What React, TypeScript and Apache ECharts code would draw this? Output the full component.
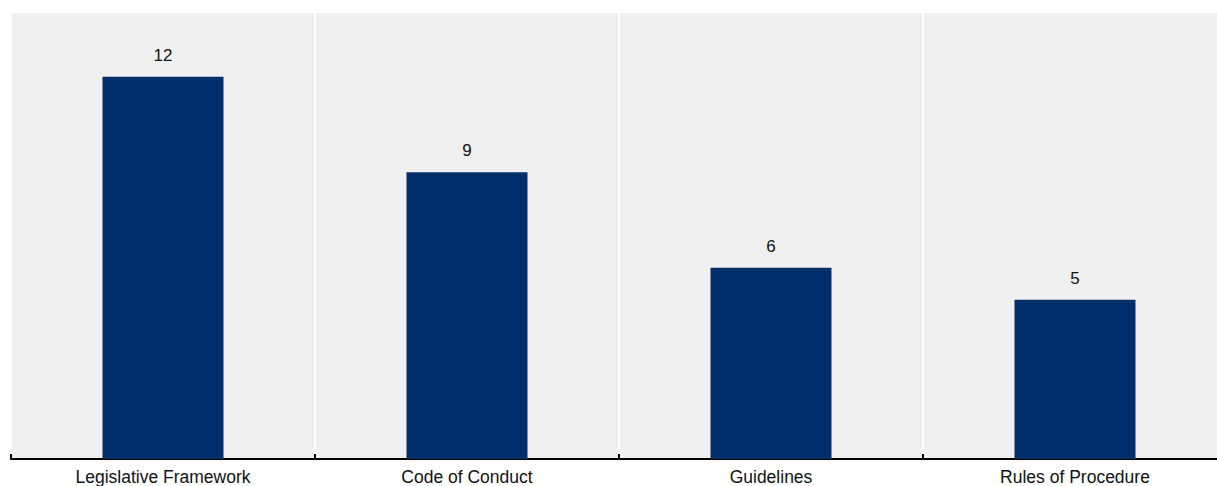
import React, { useEffect, useRef } from "react";
import * as echarts from "echarts";

const categories = ["Legislative Framework", "Code of Conduct", "Guidelines", "Rules of Procedure"];
const values = [12, 9, 6, 5];

const FONT = '"Liberation Sans Narrow", "Arial Narrow", "Liberation Sans", Arial, sans-serif';

export default function App() {
  const ref = useRef<HTMLDivElement>(null);
  useEffect(() => {
    if (!ref.current) return;
    const chart = echarts.init(ref.current, undefined, { renderer: "svg" });
    chart.setOption({
      animation: false,
      grid: {
        left: 11,
        top: 13,
        width: 1216,
        bottom: 26,
        show: true,
        backgroundColor: "#f0f0f0",
        borderWidth: 0,
      },
      xAxis: {
        type: "category",
        data: categories,
        axisLine: { show: true, lineStyle: { color: "#000", width: 2 } },
        axisTick: { show: true, inside: true, length: 5, lineStyle: { color: "#000", width: 2 } },
        splitLine: { show: true, lineStyle: { color: "#ffffff", width: 2 } },
        axisLabel: { color: "#111", fontSize: 17.5, fontFamily: FONT, margin: 9 },
      },
      yAxis: {
        type: "value",
        min: 0,
        max: 14,
        show: false,
        splitLine: { show: false },
      },
      series: [
        {
          type: "bar",
          data: values,
          barWidth: 121,
          itemStyle: { color: "#002f6c" },
          label: {
            show: true,
            position: "top",
            distance: 13,
            color: "#111",
            fontSize: 17,
            fontFamily: FONT,
          },
        },
      ],
    });
    return () => chart.dispose();
  }, []);
  return (
    <div style={{ position: "fixed", left: 0, top: 0, width: "100vw", height: "100vh", overflow: "hidden", background: "#fff" }}>
      <div ref={ref} style={{ width: 1240, height: 486 }} />
    </div>
  );
}
